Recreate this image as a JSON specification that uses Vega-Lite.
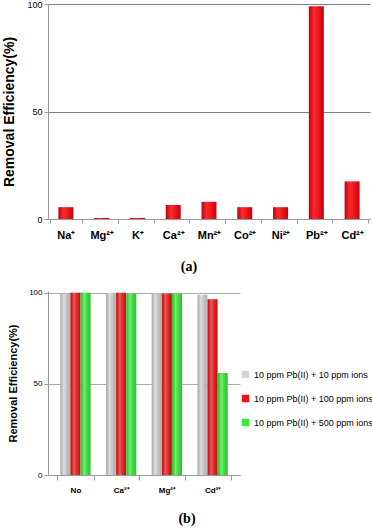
{
  "$schema": "https://vega.github.io/schema/vega-lite/v6.json",
  "padding": {"left": 2, "top": 0, "right": 0, "bottom": 0},
  "spacing": 14,
  "config": {"view": {"stroke": null}, "font": "Liberation Sans"},
  "vconcat": [
    {
      "width": 322,
      "height": 215,
      "data": {"values": [
        {"ion": "Na⁺", "eff": 5.5},
        {"ion": "Mg²⁺", "eff": 0.5},
        {"ion": "K⁺", "eff": 0.5},
        {"ion": "Ca²⁺", "eff": 6.5},
        {"ion": "Mn²⁺", "eff": 8},
        {"ion": "Co²⁺", "eff": 5.5},
        {"ion": "Ni²⁺", "eff": 5.5},
        {"ion": "Pb²⁺", "eff": 99},
        {"ion": "Cd²⁺", "eff": 17.5}
      ]},
      "title": {"text": "(a)", "orient": "bottom", "font": "Liberation Serif", "fontWeight": "bold", "fontSize": 14, "offset": 20, "dx": -20},
      "mark": {"type": "bar", "width": 15, "color": {"gradient": "linear", "x1": 0, "x2": 1, "y1": 0, "y2": 0, "stops": [{"offset": 0, "color": "#c0000e"}, {"offset": 0.35, "color": "#ff2a2a"}, {"offset": 1, "color": "#c8000f"}]}},
      "encoding": {
        "x": {"field": "ion", "type": "nominal", "sort": null,
          "axis": {"title": null, "labelAngle": 0, "labelFontWeight": "bold", "labelFontSize": 11, "labelColor": "#000", "ticks": true, "tickBand": "extent", "tickSize": 4, "tickColor": "#999", "domainColor": "#999", "labelPadding": 6}},
        "y": {"field": "eff", "type": "quantitative", "scale": {"domain": [0, 100]},
          "axis": {"values": [0, 50, 100], "title": "Removal Efficiency(%)", "titleFontSize": 14, "titleFontWeight": "bold", "titleColor": "#000", "titlePadding": 10, "labelFontSize": 9, "labelColor": "#000", "gridColor": "#808080", "gridWidth": 1, "domainColor": "#999", "tickColor": "#999", "tickSize": 4}}
      }
    },
    {
      "width": 192,
      "height": 184,
      "data": {"values": [
        {"grp": "No", "series": "10 ppm Pb(II) + 10 ppm ions", "eff": 99.5},
        {"grp": "No", "series": "10 ppm Pb(II) + 100 ppm ions", "eff": 100},
        {"grp": "No", "series": "10 ppm Pb(II) + 500 ppm ions", "eff": 100},
        {"grp": "Ca²⁺", "series": "10 ppm Pb(II) + 10 ppm ions", "eff": 100},
        {"grp": "Ca²⁺", "series": "10 ppm Pb(II) + 100 ppm ions", "eff": 100},
        {"grp": "Ca²⁺", "series": "10 ppm Pb(II) + 500 ppm ions", "eff": 99.5},
        {"grp": "Mg²⁺", "series": "10 ppm Pb(II) + 10 ppm ions", "eff": 99.5},
        {"grp": "Mg²⁺", "series": "10 ppm Pb(II) + 100 ppm ions", "eff": 99.5},
        {"grp": "Mg²⁺", "series": "10 ppm Pb(II) + 500 ppm ions", "eff": 99.5},
        {"grp": "Cd²⁺", "series": "10 ppm Pb(II) + 10 ppm ions", "eff": 99},
        {"grp": "Cd²⁺", "series": "10 ppm Pb(II) + 100 ppm ions", "eff": 96.5},
        {"grp": "Cd²⁺", "series": "10 ppm Pb(II) + 500 ppm ions", "eff": 56}
      ]},
      "title": {"text": "(b)", "orient": "bottom", "font": "Liberation Serif", "fontWeight": "bold", "fontSize": 14, "offset": 18, "dx": 43},
      "layer": [
        {
          "mark": {"type": "bar", "width": 10},
          "encoding": {
            "x": {"field": "grp", "type": "nominal", "sort": null,
              "axis": {"title": null, "labelAngle": 0, "labelFontWeight": "bold", "labelFontSize": 8, "labelColor": "#000", "ticks": true, "tickBand": "extent", "tickColor": "#999", "domainColor": "#999", "labelPadding": 6}},
            "xOffset": {"field": "series", "type": "nominal", "scale": {"paddingInner": 0.0, "paddingOuter": 0.3}},
            "y": {"field": "eff", "type": "quantitative", "scale": {"domain": [0, 101], "nice": false},
              "axis": {"values": [0, 50, 100], "title": "Removal Efficiency(%)", "titleFontSize": 11, "titleFontWeight": "bold", "titleColor": "#000", "titlePadding": 10, "labelFontSize": 8, "labelColor": "#000", "gridColor": "#aaaaaa", "domainColor": "#999", "tickColor": "#999", "tickSize": 4}},
            "color": {"field": "series", "type": "nominal",
              "scale": {"range": ["#d4d4d4", "#ee1111", "#33ee33"]},
              "legend": {"title": null, "orient": "none", "legendX": 193, "legendY": 366, "symbolType": "square", "symbolSize": 55, "symbolStrokeWidth": 0, "labelFontSize": 9, "labelColor": "#000", "rowPadding": 14, "labelLimit": 140, "labelOffset": 4}}
          }
        },
        {
          "mark": {"type": "bar", "width": 10, "color": {"gradient": "linear", "x1": 0, "x2": 1, "y1": 0, "y2": 0, "stops": [{"offset": 0, "color": "rgba(0,0,0,0.18)"}, {"offset": 0.35, "color": "rgba(255,255,255,0.3)"}, {"offset": 1, "color": "rgba(0,0,0,0.15)"}]}},
          "encoding": {
            "x": {"field": "grp", "type": "nominal", "sort": null},
            "xOffset": {"field": "series", "type": "nominal"},
            "y": {"field": "eff", "type": "quantitative"}
          }
        }
      ]
    }
  ]
}
